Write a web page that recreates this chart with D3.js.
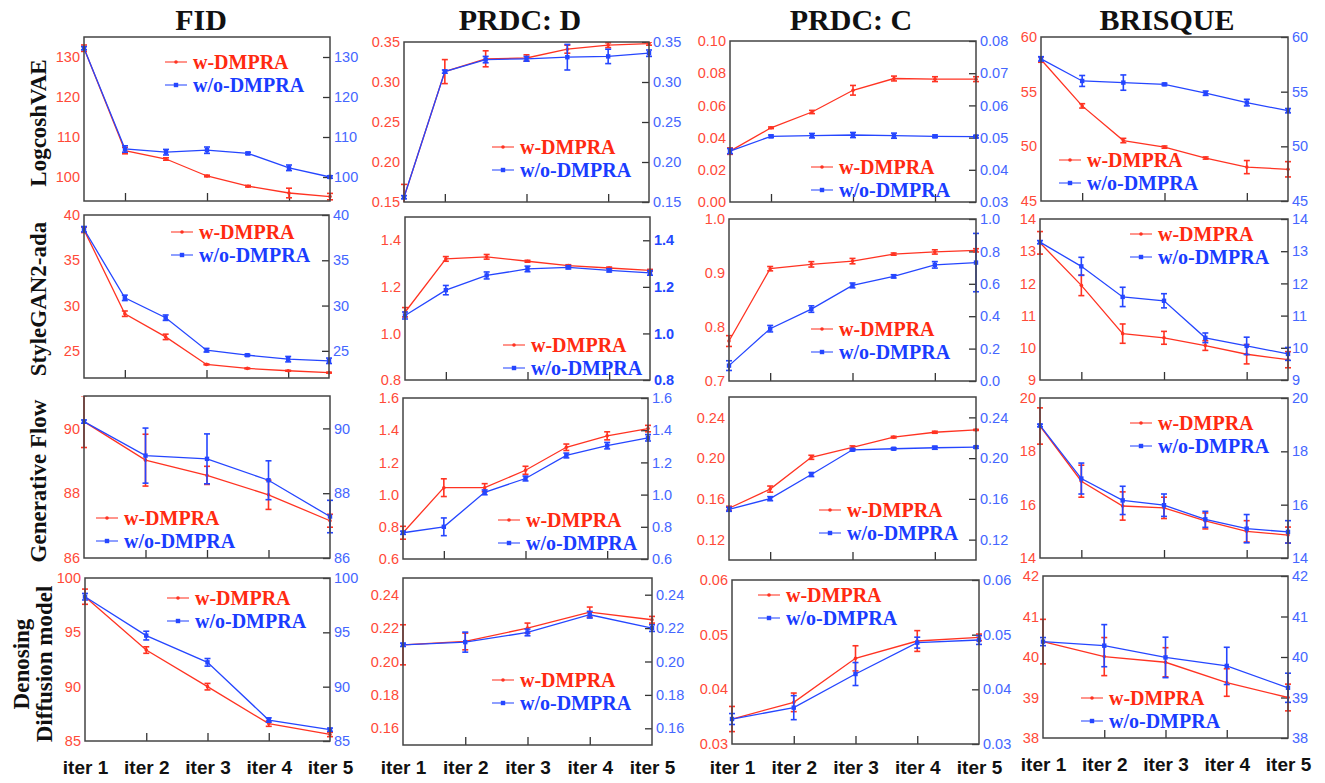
<!DOCTYPE html>
<meta charset="utf-8">
<style>
body { margin: 0; background: #fff; }
svg { font-family: "Liberation Serif", "Times New Roman", serif; }
.tl text { fill: #ff4a38; font-size: 14.5px; }
.tr text { fill: #4466ff; font-size: 14.5px; }
.tr.bold text { font-weight: bold; fill: #2248ff; }
.tl line, .tr line, .tb line { stroke: #333; stroke-width: 1.3px; }
.xl text { fill: #111; font-size: 19px; font-weight: bold; }
.title { font-size: 30px; font-weight: bold; fill: #111; }
.rowlab { font-size: 23px; font-weight: bold; fill: #111; }
.leg { font-size: 20px; font-weight: bold; }
.frame { fill: none; stroke: #444; stroke-width: 1.5px; }
</style>
<body>
<script src="https://d3js.org/d3.v7.min.js"></script>
<script>
var metrics = ["FID", "PRDC: D", "PRDC: C", "BRISQUE"];
var models = [["LogcoshVAE"], ["StyleGAN2-ada"], ["Generative Flow"], ["Denosing", "Diffusion model"]];
var iters = ["iter 1", "iter 2", "iter 3", "iter 4", "iter 5"];
var seriesNames = ["w-DMPRA", "w/o-DMPRA"];

// [value, error] per point
// LogcoshVAE
var vaeFidW = [[132.2,0.8],[106.6,0.8],[104.5,0.3],[100.25,0.2],[97.7,0.2],[96.0,1.2],[95.1,0.8]];
var vaeFidWo = [[132.2,0.4],[107.0,0.8],[106.2,0.7],[106.7,0.8],[105.9,0.3],[102.3,0.7],[100.0,0.3]];
var vaeDW = [[0.156,0.016],[0.313,0.015],[0.329,0.01],[0.330,0.004],[0.341,0.005],[0.346,0.003],[0.348,0.002]];
var vaeDWo = [[0.156,0.002],[0.313,0.002],[0.328,0.004],[0.329,0.003],[0.331,0.016],[0.332,0.009],[0.336,0.004]];
var vaeCW = [[0.0316,0.002],[0.0461,0.0005],[0.0559,0.001],[0.0694,0.003],[0.0767,0.0015],[0.0763,0.0015],[0.0763,0.0015]];
var vaeCWo = [[0.0458,0.0008],[0.0504,0.0004],[0.0506,0.0007],[0.0508,0.0008],[0.0506,0.0008],[0.0504,0.0004],[0.0503,0.0004]];
var vaeBrW = [[57.94,0.25],[53.7,0.2],[50.53,0.2],[49.93,0.1],[48.93,0.1],[48.1,0.6],[47.9,0.7]];
var vaeBrWo = [[58.0,0.2],[55.98,0.5],[55.83,0.7],[55.67,0.1],[54.86,0.2],[54.0,0.3],[53.26,0.2]];
// StyleGAN2-ada
var ganFidW = [[38.36,0.3],[29.1,0.3],[26.54,0.3],[23.5,0.05],[23.06,0.05],[22.8,0.05],[22.59,0.05]];
var ganFidWo = [[38.43,0.3],[30.85,0.3],[28.66,0.3],[25.07,0.2],[24.52,0.1],[24.08,0.3],[23.9,0.3]];
var ganDW = [[1.091,0.02],[1.32,0.01],[1.329,0.01],[1.31,0.004],[1.291,0.004],[1.281,0.004],[1.271,0.004]];
var ganDWo = [[1.077,0.015],[1.186,0.02],[1.249,0.015],[1.277,0.012],[1.284,0.007],[1.271,0.007],[1.26,0.01]];
var ganCW = [[0.774,0.01],[0.908,0.004],[0.916,0.005],[0.922,0.005],[0.935,0.002],[0.939,0.004],[0.942,0.003]];
var ganCWo = [[0.095,0.03],[0.323,0.02],[0.444,0.02],[0.59,0.015],[0.646,0.01],[0.717,0.02],[0.731,0.18]];
var ganBrW = [[13.26,0.35],[11.94,0.32],[10.44,0.3],[10.31,0.2],[10.07,0.15],[9.8,0.3],[9.63,0.25]];
var ganBrWo = [[13.28,0.05],[12.53,0.28],[11.58,0.3],[11.46,0.22],[10.31,0.15],[10.06,0.27],[9.81,0.2]];
// Generative Flow
var flowFidW = [[90.21,0.8],[89.02,0.8],[88.55,0.28],[87.95,0.45],[87.15,0.2]];
var flowFidWo = [[90.21,0.05],[89.16,0.85],[89.06,0.77],[88.4,0.6],[87.28,0.5]];
var flowDW = [[0.763,0.04],[1.043,0.055],[1.043,0.025],[1.151,0.025],[1.294,0.02],[1.365,0.025],[1.41,0.02]];
var flowDWo = [[0.763,0.01],[0.8,0.055],[1.014,0.015],[1.1,0.015],[1.243,0.015],[1.304,0.02],[1.353,0.02]];
var flowCW = [[0.1508,0.002],[0.1696,0.003],[0.2008,0.002],[0.2105,0.0015],[0.2206,0.0008],[0.2254,0.001],[0.2277,0.0005]];
var flowCWo = [[0.1498,0.002],[0.1602,0.002],[0.1839,0.002],[0.2082,0.001],[0.2092,0.001],[0.2102,0.0015],[0.2108,0.001]];
var flowBrW = [[18.95,0.68],[16.88,0.6],[15.95,0.53],[15.88,0.4],[15.39,0.3],[15.0,0.4],[14.86,0.3]];
var flowBrWo = [[18.97,0.05],[16.98,0.58],[16.16,0.53],[15.98,0.42],[15.45,0.3],[15.1,0.53],[14.98,0.42]];
// Denosing Diffusion model
var ddmFidW = [[98.28,0.7],[93.37,0.3],[90.0,0.3],[86.6,0.25],[85.6,0.2]];
var ddmFidWo = [[98.28,0.3],[94.7,0.4],[92.24,0.35],[86.93,0.2],[86.04,0.15]];
var ddmDW = [[0.21,0.012],[0.212,0.005],[0.22,0.003],[0.2296,0.003],[0.225,0.002]];
var ddmDWo = [[0.21,0.001],[0.2116,0.006],[0.2174,0.002],[0.228,0.002],[0.22,0.002]];
var ddmCW = [[0.03457,0.0023],[0.03762,0.0017],[0.04567,0.0023],[0.04884,0.0019],[0.04951,0.0006]];
var ddmCWo = [[0.03457,0.001],[0.03665,0.0022],[0.0428,0.0021],[0.04854,0.001],[0.04902,0.0008]];
var ddmBrW = [[40.38,0.55],[40.01,0.47],[39.87,0.36],[39.37,0.34],[39.0,0.33]];
var ddmBrWo = [[40.38,0.1],[40.28,0.52],[39.99,0.5],[39.78,0.46],[39.24,0.36]];

// tick values
var tkVaeFid = [100,110,120,130], tkVaeD = [0.15,0.20,0.25,0.30,0.35];
var tkVaeCL = [0,0.02,0.04,0.06,0.08,0.10], tkVaeCR = [0.03,0.04,0.05,0.06,0.07,0.08];
var tkVaeBr = [45,50,55,60];
var tkGanFid = [25,30,35,40], tkGanD = [0.8,1.0,1.2,1.4];
var tkGanCL = [0.7,0.8,0.9,1.0], tkGanCR = [0,0.2,0.4,0.6,0.8,1.0];
var tkGanBr = [9,10,11,12,13,14];
var tkFlowFid = [86,88,90], tkFlowD = [0.6,0.8,1.0,1.2,1.4,1.6];
var tkFlowC = [0.12,0.16,0.20,0.24], tkFlowBr = [14,16,18,20];
var tkDdmFid = [85,90,95,100], tkDdmD = [0.16,0.18,0.20,0.22,0.24];
var tkDdmC = [0.03,0.04,0.05,0.06], tkDdmBr = [38,39,40,41,42];

var RED = "#ff3322", BLUE = "#2546ff";

var panels = [
  {box:[84,37,330,201], w:vaeFidW, wo:vaeFidWo, yl:[94,135], tl:tkVaeFid, f:"d", leg:[165,62]},
  {box:[404,42,649,202], w:vaeDW, wo:vaeDWo, yl:[0.15,0.35], tl:tkVaeD, f:".2f", leg:[492,147]},
  {box:[730,41,976,202], w:vaeCW, wo:vaeCWo, yl:[0,0.10], tl:tkVaeCL, yr:[0.03,0.08], tr:tkVaeCR, f:".2f", leg:[811,167]},
  {box:[1041,37,1288,201], w:vaeBrW, wo:vaeBrWo, yl:[45,60], tl:tkVaeBr, f:"d", leg:[1059,160]},

  {box:[84,215,329,378], w:ganFidW, wo:ganFidWo, yl:[22,40], tl:tkGanFid, f:"d", leg:[171,232]},
  {box:[405,217,650,380], w:ganDW, wo:ganDWo, yl:[0.8,1.5], tl:tkGanD, f:".1f", leg:[503,345], boldR:true},
  {box:[729,219,976,381], w:ganCW, wo:ganCWo, yl:[0.7,1.0], tl:tkGanCL, yr:[0,1], tr:tkGanCR, f:".1f", leg:[811,329]},
  {box:[1040,219,1288,380], w:ganBrW, wo:ganBrWo, yl:[9,14], tl:tkGanBr, f:"d", leg:[1130,234]},

  {box:[84,396,330,558], w:flowFidW, wo:flowFidWo, yl:[86,91], tl:tkFlowFid, f:"d", leg:[96,518]},
  {box:[403,398,648,559], w:flowDW, wo:flowDWo, yl:[0.6,1.6], tl:tkFlowD, f:".1f", leg:[498,520]},
  {box:[729,397,976,560], w:flowCW, wo:flowCWo, yl:[0.10,0.26], tl:tkFlowC, f:".2f", leg:[819,510]},
  {box:[1040,398,1288,558], w:flowBrW, wo:flowBrWo, yl:[14,20], tl:tkFlowBr, f:"d", leg:[1130,423]},

  {box:[85,578,330,741], w:ddmFidW, wo:ddmFidWo, yl:[85,100], tl:tkDdmFid, f:"d", leg:[167,598], xl:768},
  {box:[403,578,652,745], w:ddmDW, wo:ddmDWo, yl:[0.15,0.25], tl:tkDdmD, f:".2f", leg:[492,680], xl:768},
  {box:[732,580,979,744], w:ddmCW, wo:ddmCWo, yl:[0.03,0.06], tl:tkDdmC, f:".2f", leg:[758,595], xl:768},
  {box:[1043,576,1288,738], w:ddmBrW, wo:ddmBrWo, yl:[38,42], tl:tkDdmBr, f:"d", leg:[1081,698], xl:765}
];

var svg = d3.select("body").append("svg")
  .attr("width", 1325)
  .attr("height", 783);

// column titles
var titleX = [201, 520, 851, 1167];
svg.selectAll(".title")
  .data(metrics)
  .enter().append("text")
  .attr("class", "title")
  .attr("x", function(d, i) { return titleX[i]; })
  .attr("y", 30)
  .attr("text-anchor", "middle")
  .text(function(d) { return d; });

// row labels
var rowY = [123, 299, 481, 664];
models.forEach(function(lines, r) {
  var t = svg.append("text")
    .attr("class", "rowlab")
    .attr("text-anchor", "middle")
    .attr("transform", "translate(" + (lines.length > 1 ? 21 : 38) + "," + rowY[r] + ") rotate(-90)");
  lines.forEach(function(s, k) {
    t.append("tspan")
      .attr("x", 0)
      .attr("dy", k === 0 ? "0.35em" : "1.0em")
      .text(s);
  });
});

panels.forEach(function(p, pi) {
  var x0 = p.box[0], y0 = p.box[1], x1 = p.box[2], y1 = p.box[3];
  var n = p.w.length;
  var x = d3.scaleLinear().domain([0, n - 1]).range([x0, x1]);
  var yl = d3.scaleLinear().domain(p.yl).range([y1, y0]);
  var yr = p.yr ? d3.scaleLinear().domain(p.yr).range([y1, y0]) : yl;
  var fmt = d3.format(p.f);

  var g = svg.append("g");

  // clip only top/bottom so edge error bars keep their caps
  g.append("clipPath").attr("id", "clip" + pi)
    .append("rect")
    .attr("x", x0 - 12).attr("y", y0)
    .attr("width", x1 - x0 + 24).attr("height", y1 - y0);

  // left axis: labels only
  g.append("g")
    .attr("class", "tl")
    .attr("transform", "translate(" + x0 + ",0)")
    .call(d3.axisLeft(yl).tickValues(p.tl).tickSize(0).tickPadding(4).tickFormat(fmt))
    .call(function(a) { a.select(".domain").remove(); });

  // right axis: inward ticks
  g.append("g")
    .attr("class", "tr" + (p.boldR ? " bold" : ""))
    .attr("transform", "translate(" + x1 + ",0)")
    .call(d3.axisRight(yr).tickValues(p.tr || p.tl).tickSize(-7).tickPadding(4).tickFormat(fmt))
    .call(function(a) { a.select(".domain").remove(); });

  // bottom inner ticks
  var inner = n === 7 ? [1, 3, 5] : [1, 2, 3];
  g.append("g")
    .attr("class", "tb")
    .attr("transform", "translate(0," + y1 + ")")
    .call(d3.axisBottom(x).tickValues(inner).tickSize(-8).tickFormat(""))
    .call(function(a) { a.select(".domain").remove(); });

  if (p.xl) {
    g.append("g")
      .attr("class", "xl")
      .attr("transform", "translate(0," + (p.xl - 8) + ")")
      .call(d3.axisBottom(x).tickValues(d3.range(n)).tickSize(0).tickPadding(0)
        .tickFormat(function(i) { return iters[i]; }))
      .call(function(a) { a.select(".domain").remove(); });
  }

  var plot = g.append("g").attr("clip-path", "url(#clip" + pi + ")");

  [[p.w, yl, RED, "c"], [p.wo, yr, BLUE, "s"]].forEach(function(s) {
    var data = s[0], y = s[1], col = s[2];
    plot.append("path")
      .datum(data)
      .attr("fill", "none")
      .attr("stroke", col)
      .attr("stroke-width", 1.3)
      .attr("d", d3.line()
        .x(function(d, i) { return x(i); })
        .y(function(d) { return y(d[0]); }));

    var eb = plot.append("g")
      .attr("stroke", col)
      .attr("stroke-width", 1.6);
    data.forEach(function(d, i) {
      var cx = x(i), lo = y(d[0] - d[1]), hi = y(d[0] + d[1]);
      eb.append("line").attr("x1", cx).attr("x2", cx).attr("y1", lo).attr("y2", hi);
      eb.append("line").attr("x1", cx - 3).attr("x2", cx + 3).attr("y1", lo).attr("y2", lo);
      eb.append("line").attr("x1", cx - 3).attr("x2", cx + 3).attr("y1", hi).attr("y2", hi);
    });

    if (s[3] === "c") {
      plot.append("g").selectAll("circle")
        .data(data).enter().append("circle")
        .attr("cx", function(d, i) { return x(i); })
        .attr("cy", function(d) { return y(d[0]); })
        .attr("r", 1.8)
        .attr("fill", col);
    } else {
      plot.append("g").selectAll("rect")
        .data(data).enter().append("rect")
        .attr("x", function(d, i) { return x(i) - 2.2; })
        .attr("y", function(d) { return y(d[0]) - 2.2; })
        .attr("width", 4.4).attr("height", 4.4)
        .attr("fill", col);
    }
  });

  g.append("rect")
    .attr("class", "frame")
    .attr("x", x0).attr("y", y0)
    .attr("width", x1 - x0).attr("height", y1 - y0);

  // legend
  var lx = p.leg[0], ly = p.leg[1];
  [[RED, "#ff2a10", "c"], [BLUE, "#1a3cff", "s"]].forEach(function(s, k) {
    var yy = ly + k * 23;
    g.append("line")
      .attr("x1", lx).attr("x2", lx + 22)
      .attr("y1", yy).attr("y2", yy)
      .attr("stroke", s[0]).attr("stroke-width", 1.3).attr("stroke-opacity", 0.8);
    if (s[2] === "c") {
      g.append("circle").attr("cx", lx + 11).attr("cy", yy).attr("r", 1.8).attr("fill", s[0]);
    } else {
      g.append("rect").attr("x", lx + 8.8).attr("y", yy - 2.2).attr("width", 4.4).attr("height", 4.4).attr("fill", s[0]);
    }
    g.append("text")
      .attr("class", "leg")
      .attr("x", lx + 28)
      .attr("y", yy)
      .attr("dy", "0.35em")
      .attr("fill", s[1])
      .text(seriesNames[k]);
  });
});
</script>
</body>
